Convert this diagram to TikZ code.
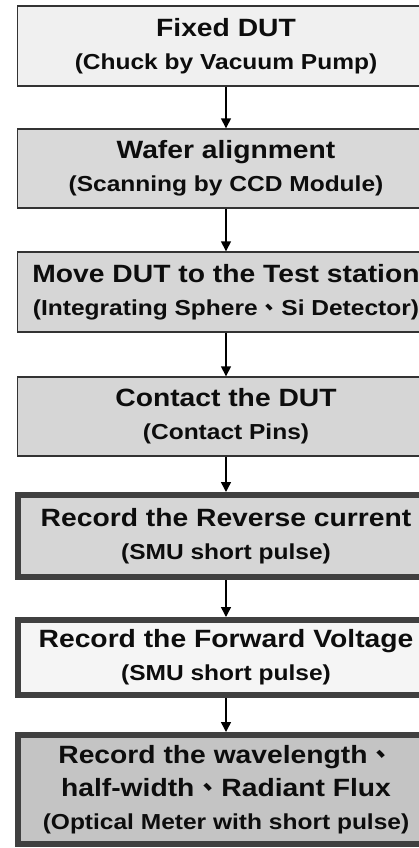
\documentclass[tikz,border=0pt]{standalone}
\usepackage{fontspec}
\setmainfont[FakeStretch=1.13]{Liberation Sans}
\newfontfamily\cjk{Noto Sans CJK TC}
\usetikzlibrary{arrows.meta}
\newcommand{\dun}{\hspace{1pt}{\cjk 、}\hspace{1pt}}
\newcommand{\ttl}[1]{{\fontsize{25}{33}\selectfont #1}}
\newcommand{\sub}[1]{{\fontsize{21.7}{33}\selectfont #1}}
\tikzset{
  stepbox/.style={draw=black!80,line width=1.4pt,minimum width=417pt,
    align=center,font=\bfseries\fontsize{25}{33}\selectfont,inner sep=0pt,text=black!95},
  heavybox/.style={stepbox,draw=black!75,line width=6pt},
  flow/.style={line width=1.5pt,-{Triangle[length=10pt,width=10pt]}}
}
\begin{document}
\begin{tikzpicture}[x=1pt,y=-1pt]
  \useasboundingbox (0,0) rectangle (418,848);
  \node[stepbox,fill=black!6,minimum height=80pt] (fix) at (226,46)
    {\ttl{Fixed DUT}\\ \sub{(Chuck by Vacuum Pump)}};
  \node[stepbox,fill=black!15,minimum height=79pt] (align) at (226,168.5)
    {\ttl{Wafer alignment}\\ \sub{(Scanning by CCD Module)}};
  \node[stepbox,fill=black!16,minimum height=80pt] (move) at (226,292)
    {\ttl{Move DUT to the Test station}\\ \sub{(Integrating Sphere\dun Si Detector)}};
  \node[stepbox,fill=black!16,minimum height=79pt] (contact) at (226,416.5)
    {\ttl{Contact the DUT}\\ \sub{(Contact Pins)}};
  \node[heavybox,fill=black!16,minimum height=82pt] (rev) at (226,536)
    {\ttl{Record the Reverse current}\\ \sub{(SMU short pulse)}};
  \node[heavybox,fill=black!4,minimum height=75pt] (fwd) at (226,657.5)
    {\ttl{Record the Forward Voltage}\\ \sub{(SMU short pulse)}};
  \node[heavybox,fill=black!23,minimum height=109pt] (opt) at (226,789.5)
    {\ttl{Record the wavelength\dun}\\ \ttl{half-width\dun Radiant Flux}\\
     \sub{(Optical Meter with short pulse)}};
  \foreach \a/\b in {fix/align,align/move,move/contact,contact/rev,rev/fwd,fwd/opt}
    \draw[flow] (\a) -- (\b);
\end{tikzpicture}
\end{document}
